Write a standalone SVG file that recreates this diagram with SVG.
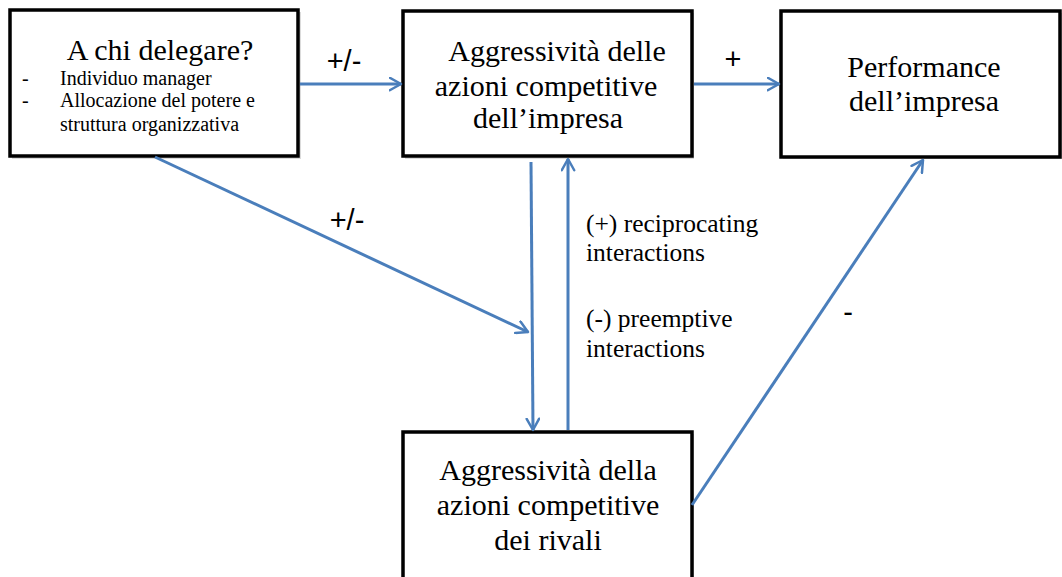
<svg xmlns="http://www.w3.org/2000/svg" width="1062" height="577" viewBox="0 0 1062 577">
<style>
.box{fill:#fff;stroke:#000;stroke-width:3.5}
.shadow{fill:#999;opacity:0.35}
.t{font-family:"Liberation Serif","Times New Roman",serif;fill:#000}
.s{font-family:"Liberation Sans",Arial,sans-serif;fill:#000;font-size:29px;font-weight:normal}
.big{font-size:30px}
.sm{font-size:20px}
.lbl{font-size:25.5px}
.conn{stroke:#4A7EBB;stroke-width:3;fill:none;marker-end:url(#ah)}
</style>
<defs>
<marker id="ah" viewBox="0 0 12 12" refX="10" refY="6" markerWidth="5" markerHeight="5" orient="auto" markerUnits="strokeWidth">
<path d="M1,1 L10,6 L1,11" fill="none" stroke="#4A7EBB" stroke-width="2" stroke-linecap="round" stroke-linejoin="round"/>
</marker>
</defs>
<rect width="1062" height="577" fill="#fff"/>
<g id="n1">
<rect class="shadow" x="12" y="12" width="289" height="147"/>
<rect class="box" x="10" y="10" width="288" height="146"/>
<text class="t big" x="160" y="60" text-anchor="middle">A chi delegare?</text>
<text class="t sm" x="22" y="85">-</text>
<text class="t sm" x="60" y="85">Individuo manager</text>
<text class="t sm" x="22" y="107">-</text>
<text class="t sm" x="60" y="107">Allocazione del potere e</text>
<text class="t sm" x="60" y="131">struttura organizzativa</text>
</g>
<g id="n2">
<rect class="shadow" x="405" y="13" width="289" height="146"/>
<rect class="box" x="403" y="11" width="289" height="145"/>
<text class="t big" x="557" y="61" text-anchor="middle">Aggressività delle</text>
<text class="t big" x="546" y="96" text-anchor="middle">azioni competitive</text>
<text class="t big" x="548" y="128" text-anchor="middle">dell’impresa</text>
</g>
<g id="n3">
<rect class="shadow" x="783" y="13" width="282" height="146"/>
<rect class="box" x="781" y="11" width="279" height="146"/>
<text class="t big" x="924" y="77" text-anchor="middle">Performance</text>
<text class="t big" x="924" y="111" text-anchor="middle">dell’impresa</text>
</g>
<g id="n4">
<rect class="shadow" x="405" y="434" width="289" height="150"/>
<rect class="box" x="403" y="432" width="289" height="150"/>
<text class="t big" x="548" y="480" text-anchor="middle">Aggressività della</text>
<text class="t big" x="548" y="515" text-anchor="middle">azioni competitive</text>
<text class="t big" x="548" y="550" text-anchor="middle">dei rivali</text>
</g>
<g id="connectors">
<line class="conn" x1="300" y1="84" x2="401" y2="84"/>
<line class="conn" x1="694" y1="84" x2="779" y2="84"/>
<line class="conn" x1="155" y1="157" x2="528" y2="332"/>
<line class="conn" x1="531" y1="162" x2="533" y2="430"/>
<line class="conn" x1="568" y1="430" x2="568" y2="159"/>
<line class="conn" x1="692" y1="505" x2="923" y2="160"/>
</g>
<g id="labels">
<text class="s" x="344" y="71" text-anchor="middle">+/-</text>
<text class="s" x="733" y="69" text-anchor="middle">+</text>
<text class="s" x="347" y="230" text-anchor="middle">+/-</text>
<text class="t lbl" x="586" y="232">(+) reciprocating</text>
<text class="t lbl" x="586" y="261">interactions</text>
<text class="t lbl" x="586" y="327">(-) preemptive</text>
<text class="t lbl" x="586" y="357">interactions</text>
<text class="s" x="848" y="322" text-anchor="middle">-</text>
</g>
</svg>
